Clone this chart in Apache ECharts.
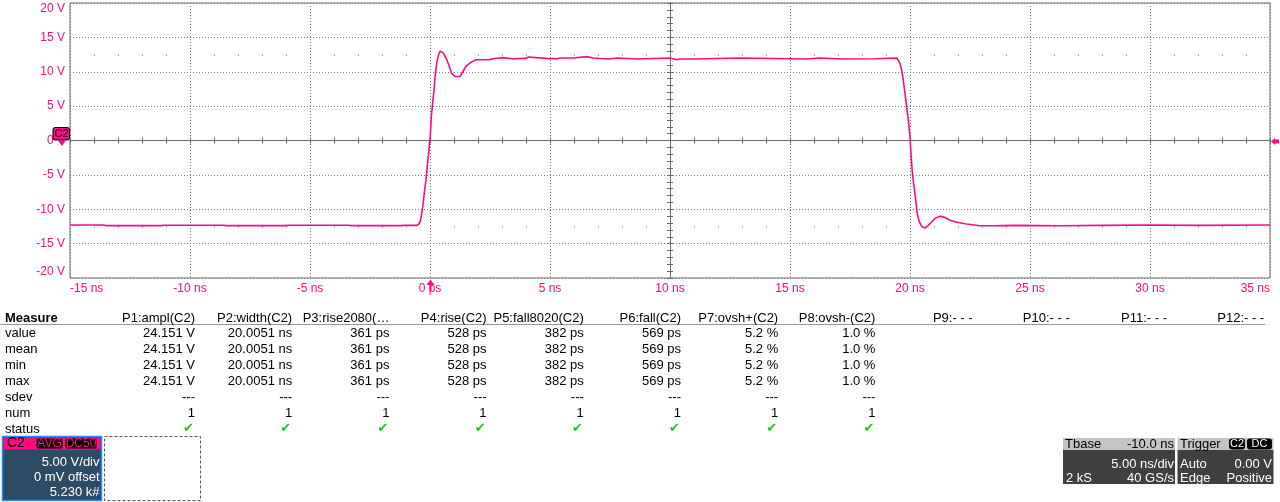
<!DOCTYPE html>
<html>
<head>
<meta charset="utf-8">
<script src="https://cdn.jsdelivr.net/npm/echarts@6/dist/echarts.min.js"></script>
<style>
html,body{margin:0;padding:0;background:#fff;}
#c{width:1280px;height:502px;}
</style>
</head>
<body>
<div id="c"></div>
<script>
// ---------------- DATA ----------------
const timeNs = [
  -15.0, -13.6, -13.5, -11.2, -11.1, -8.6, -8.5, -6.0, -5.9, -3.4, -3.3, -1.2, -1.1, -0.54,
  -0.45, -0.40, -0.32, -0.24, -0.17, -0.10, -0.03, 0.01, 0.055, 0.11, 0.17, 0.21, 0.28, 0.36,
  0.42, 0.49, 0.56, 0.70, 0.80, 0.90, 1.04, 1.25, 1.37, 1.50, 1.72, 1.93, 2.50, 2.60, 3.03,
  3.45, 4.00, 4.10, 4.85, 5.30, 5.42, 5.96, 5.97, 6.54, 6.55, 6.79, 6.80, 7.42, 7.43, 7.79,
  7.80, 8.67, 8.68, 10.0, 10.01, 10.3, 10.4, 10.96, 10.97, 12.92, 12.93, 15.70, 15.71, 16.25,
  16.26, 17.20, 17.21, 18.54, 18.55, 19.45, 19.51, 19.58, 19.65, 19.72, 19.79, 19.86, 19.93,
  20.00, 20.04, 20.10, 20.17, 20.24, 20.30, 20.39, 20.49, 20.625, 20.76, 20.90, 21.04, 21.25,
  21.46, 21.67, 21.95, 22.36, 22.92, 23.47, 24.30, 26.25, 28.0, 30.0, 32.0, 35.0
];
const voltsV = [
  -12.30, -12.30, -12.38, -12.38, -12.32, -12.32, -12.38, -12.38, -12.32, -12.32, -12.38, -12.38, -12.35, -12.35,
  -12.1, -11.7, -10.1, -7.7, -5.8, -3.3, -0.9, 0.55, 3.5, 5.4, 7.4, 9.3, 11.3, 12.5,
  13.0, 13.1, 12.7, 11.75, 10.8, 9.8, 9.3, 9.3, 10.0, 10.8, 11.4, 11.75, 11.75, 11.9, 12.05,
  11.9, 11.95, 12.15, 11.95, 11.9, 12.0, 12.0, 12.2, 12.2, 12.0, 12.0, 11.85, 11.85, 12.0, 12.0,
  11.85, 11.85, 12.0, 12.0, 11.85, 11.75, 11.85, 11.85, 12.0, 12.0, 11.85, 11.85, 12.0, 12.0,
  11.85, 11.85, 11.9, 11.9, 12.0, 12.0, 11.75, 11.25, 10.3, 8.8, 6.9, 4.9, 3.0,
  0.55, -1.9, -4.8, -6.75, -8.7, -10.6, -11.85, -12.5, -12.75, -12.35, -11.85, -11.35, -11.0,
  -11.2, -11.6, -11.9, -12.15, -12.4, -12.4, -12.35, -12.4, -12.35, -12.3, -12.35, -12.3
];

const xTickValues = [-15, -10, -5, 0, 5, 10, 15, 20, 25, 30, 35];
const xTickLabels = ['-15 ns', '-10 ns', '-5 ns', '0 ps', '5 ns', '10 ns', '15 ns', '20 ns', '25 ns', '30 ns', '35 ns'];
const yTickValues = [-20, -15, -10, -5, 0, 5, 10, 15, 20];
const yTickLabels = ['-20 V', '-15 V', '-10 V', '-5 V', '0 V', '5 V', '10 V', '15 V', '20 V'];

const measureRowNames = ['value', 'mean', 'min', 'max', 'sdev', 'num', 'status'];
const paramHeaders = ['P1:ampl(C2)', 'P2:width(C2)', 'P3:rise2080(\u2026', 'P4:rise(C2)', 'P5:fall8020(C2)',
  'P6:fall(C2)', 'P7:ovsh+(C2)', 'P8:ovsh-(C2)', 'P9:- - -', 'P10:- - -', 'P11:- - -', 'P12:- - -'];
const paramValue = ['24.151 V', '20.0051 ns', '361 ps', '528 ps', '382 ps', '569 ps', '5.2 %', '1.0 %'];
const paramMean  = ['24.151 V', '20.0051 ns', '361 ps', '528 ps', '382 ps', '569 ps', '5.2 %', '1.0 %'];
const paramMin   = ['24.151 V', '20.0051 ns', '361 ps', '528 ps', '382 ps', '569 ps', '5.2 %', '1.0 %'];
const paramMax   = ['24.151 V', '20.0051 ns', '361 ps', '528 ps', '382 ps', '569 ps', '5.2 %', '1.0 %'];
const paramSdev  = ['---', '---', '---', '---', '---', '---', '---', '---'];
const paramNum   = ['1', '1', '1', '1', '1', '1', '1', '1'];
const paramStatus = ['\u2714', '\u2714', '\u2714', '\u2714', '\u2714', '\u2714', '\u2714', '\u2714'];

const channelLines = ['5.00 V/div', '0 mV offset', '5.230 k#'];
const tbaseHeader = ['Tbase', '-10.0 ns'];
const tbaseLines = [['', '5.00 ns/div'], ['2 kS', '40 GS/s']];
const triggerLines = [['Auto', '0.00 V'], ['Edge', 'Positive']];

// ---------------- LAYOUT ----------------
const PINK = '#ff0a80';
const FONT = '"Liberation Sans", Arial, sans-serif';
const GL = 70, GT = 3, GW = 1200, GH = 275;
const GB = GT + GH;
const yPx = v => GT + GH * (20 - v) / 40;
const gridColor = '#7a7a7a';
const axisColor = '#6b6b6b';

const chart = echarts.init(document.getElementById('c'), null, {renderer: 'canvas'});

function lab(list, vals) {
  return function (v) {
    for (let i = 0; i < vals.length; i++) if (Math.abs(vals[i] - v) < 1e-6) return list[i];
    return '';
  };
}

const baseX = {type: 'value', min: -15, max: 35, interval: 5};
const baseY = {type: 'value', min: -20, max: 20, interval: 5};

const xAxes = [
  Object.assign({}, baseX, {
    position: 'bottom',
    axisLine: {show: false, onZero: false},
    axisTick: {show: false},
    splitLine: {show: true, lineStyle: {color: gridColor, type: [1, 2], width: 1}},
    axisLabel: {color: PINK, fontSize: 12, fontFamily: FONT, margin: 5,
      formatter: lab(xTickLabels, xTickValues), alignMinLabel: 'left', alignMaxLabel: 'right'}
  }),
  Object.assign({}, baseX, {
    position: 'bottom',
    axisLine: {show: true, onZero: true, onZeroAxisIndex: 0, lineStyle: {color: axisColor, width: 1}},
    axisTick: {show: true, inside: false, length: 3, lineStyle: {color: axisColor}},
    minorTick: {show: true, splitNumber: 5, length: 3, lineStyle: {color: axisColor}},
    axisLabel: {show: false}, splitLine: {show: false}
  }),
  Object.assign({}, baseX, {
    position: 'bottom',
    axisLine: {show: false, onZero: true, onZeroAxisIndex: 0},
    axisTick: {show: true, inside: true, length: 3, lineStyle: {color: axisColor}},
    minorTick: {show: true, splitNumber: 5, length: 3, lineStyle: {color: axisColor}},
    axisLabel: {show: false}, splitLine: {show: false}
  }),
  Object.assign({}, baseX, {
    position: 'bottom', offset: -(GB - yPx(12.5)),
    axisLine: {show: false, onZero: false},
    axisTick: {show: false},
    minorTick: {show: true, splitNumber: 5, length: 1, lineStyle: {color: '#555'}},
    axisLabel: {show: false}, splitLine: {show: false}
  }),
  Object.assign({}, baseX, {
    position: 'bottom', offset: -(GB - yPx(-12.5)),
    axisLine: {show: false, onZero: false},
    axisTick: {show: false},
    minorTick: {show: true, splitNumber: 5, length: 1, lineStyle: {color: '#555'}},
    axisLabel: {show: false}, splitLine: {show: false}
  })
];

const yAxes = [
  Object.assign({}, baseY, {
    position: 'left',
    axisLine: {show: false, onZero: false},
    axisTick: {show: false},
    splitLine: {show: true, lineStyle: {color: gridColor, type: [1, 2], width: 1}},
    axisLabel: {color: PINK, fontSize: 12, fontFamily: FONT, margin: 5,
      formatter: lab(yTickLabels, yTickValues),
      verticalAlignMaxLabel: 'top', verticalAlignMinLabel: 'bottom'}
  }),
  Object.assign({}, baseY, {
    position: 'left', offset: -GW / 2,
    axisLine: {show: true, onZero: false, lineStyle: {color: axisColor, width: 1}},
    axisTick: {show: true, inside: false, length: 3, lineStyle: {color: axisColor}},
    minorTick: {show: true, splitNumber: 5, length: 3, lineStyle: {color: axisColor}},
    axisLabel: {show: false}, splitLine: {show: false}
  }),
  Object.assign({}, baseY, {
    position: 'left', offset: -GW / 2,
    axisLine: {show: false, onZero: false},
    axisTick: {show: true, inside: true, length: 3, lineStyle: {color: axisColor}},
    minorTick: {show: true, splitNumber: 5, length: 3, lineStyle: {color: axisColor}},
    axisLabel: {show: false}, splitLine: {show: false}
  })
];

// ---------------- GRAPHICS (panels) ----------------
const g = [];
function txt(x, y, s, opt) {
  opt = opt || {};
  g.push({type: 'text', x: x, y: y, z: 100, silent: true,
    style: {text: s, fill: opt.fill || '#000', align: opt.align || 'left', verticalAlign: 'middle',
      font: (opt.weight || 'normal') + ' ' + (opt.size || 13) + 'px ' + (opt.family || FONT)}});
}
function rect(x, y, w, h, fill, stroke, opt) {
  opt = opt || {};
  g.push({type: 'rect', z: 90, silent: true, shape: {x: x, y: y, width: w, height: h, r: opt.r || 0},
    style: {fill: fill || 'none', stroke: stroke || null, lineWidth: opt.lw || 1, lineDash: opt.dash || null}});
}
function poly(points, fill) {
  g.push({type: 'polygon', z: 95, silent: true, shape: {points: points}, style: {fill: fill}});
}

// Measure table
const colRight = [];
for (let i = 0; i < 12; i++) colRight.push(195 + 97.2 * i);
const headerY = 318, rowY0 = 333.3, rowStep = 16;
txt(5, headerY, 'Measure', {weight: 'bold'});
paramHeaders.forEach((h, i) => txt(colRight[i], headerY, h, {align: 'right'}));
g.push({type: 'line', z: 90, silent: true, shape: {x1: 0, y1: 324.5, x2: 1265, y2: 324.5},
  style: {stroke: '#9a9a9a', lineWidth: 1}});
measureRowNames.forEach((r, j) => txt(5, rowY0 + j * rowStep, r));
const rowsData = [paramValue, paramMean, paramMin, paramMax, paramSdev, paramNum];
rowsData.forEach((row, j) => row.forEach((v, i) =>
  txt(colRight[i], rowY0 + j * rowStep, v, {align: 'right'})));
paramStatus.forEach((v, i) => txt(colRight[i] - 1, rowY0 + 6 * rowStep - 1, v,
  {align: 'right', fill: '#22c322', size: 13, family: '"DejaVu Sans", sans-serif'}));

// Channel box
rect(2.5, 436.5, 99, 64, '#2d4b64', '#1e90ff', {lw: 1.5});
rect(3.5, 437.5, 97, 12, PINK, null);
txt(7, 443.5, 'C2', {size: 14});
rect(36, 438, 27, 11, '#000', PINK, {r: 2});
txt(49.5, 443.5, 'AVG', {align: 'center', fill: PINK, size: 12});
rect(65, 438, 32, 11, '#000', PINK, {r: 2});
txt(81, 443.5, 'DC50', {align: 'center', fill: PINK, size: 12});
channelLines.forEach((s, j) => txt(99.5, 462.3 + j * 15, s, {align: 'right', fill: '#fff'}));
rect(104.5, 436.5, 96, 64, null, '#555', {dash: [3, 2]});

// Tbase box
rect(1063, 438, 112, 12, '#c4c4c4', null);
rect(1063, 450, 112, 34, '#404040', null);
txt(1065, 444, tbaseHeader[0]);
txt(1174, 444, tbaseHeader[1], {align: 'right'});
tbaseLines.forEach((p, j) => {
  if (p[0]) txt(1066, 464.3 + j * 14, p[0], {fill: '#fff'});
  txt(1174, 464.3 + j * 14, p[1], {align: 'right', fill: '#fff'});
});
// Trigger box
rect(1177.5, 438, 96, 12, '#c4c4c4', null);
rect(1177.5, 450, 96, 34, '#404040', null);
txt(1180, 444, 'Trigger');
rect(1229, 438.5, 16, 11, '#000', null, {r: 3});
txt(1237, 444, 'C2', {align: 'center', fill: '#fff', size: 11});
rect(1247, 438.5, 25, 11, '#000', null, {r: 3});
txt(1259.5, 444, 'DC', {align: 'center', fill: '#fff', size: 11});
triggerLines.forEach((p, j) => {
  txt(1180, 464.3 + j * 14, p[0], {fill: '#fff'});
  txt(1272, 464.3 + j * 14, p[1], {align: 'right', fill: '#fff'});
});

// Markers
rect(53, 127.5, 16.5, 12.5, PINK, '#000', {r: 2});
txt(61.5, 134, 'C2', {align: 'center', size: 11});
poly([[58, 140.5], [66, 140.5], [62, 146]], PINK);
poly([[1271, 141.5], [1275, 138], [1275, 145]], PINK);
rect(1275, 139.5, 4, 4, PINK, null);
poly([[430.5, 279.5], [426.5, 285], [434.5, 285]], PINK);
rect(429.5, 285, 2, 6, PINK, null);

// ---------------- OPTION ----------------
const option = {
  animation: false,
  backgroundColor: '#fff',
  grid: {left: GL, top: GT, width: GW, height: GH, show: true, borderColor: axisColor, borderWidth: 1,
    backgroundColor: 'transparent'},
  xAxis: xAxes,
  yAxis: yAxes,
  series: [{
    type: 'line', xAxisIndex: 0, yAxisIndex: 0,
    data: timeNs.map((t, i) => [t, voltsV[i]]),
    showSymbol: false, symbol: 'none', smooth: false,
    lineStyle: {color: PINK, width: 1.6},
    z: 5
  }],
  graphic: g
};
chart.setOption(option);
</script>
</body>
</html>
